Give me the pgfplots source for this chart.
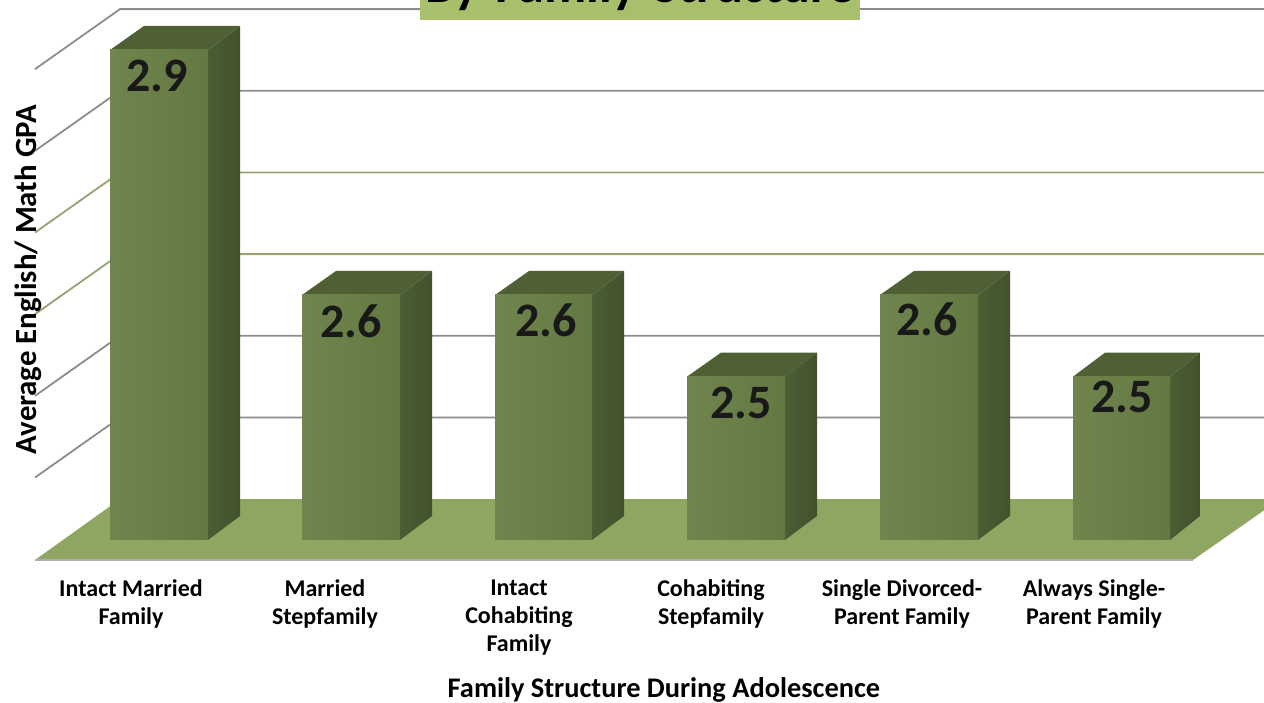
\documentclass[border=0pt]{standalone}
\usepackage{pgfplots}
\pgfplotsset{compat=1.18}
\usepackage{fontspec}
\setmainfont{Carlito}
\definecolor{fl}{HTML}{8FA662}
\definecolor{fa}{HTML}{70844E}
\definecolor{fb}{HTML}{647841}
\definecolor{sa}{HTML}{4A5D33}
\definecolor{sb}{HTML}{42522E}
\definecolor{tp}{HTML}{4F6034}
\definecolor{gg}{HTML}{8C8C8C}
\definecolor{go}{HTML}{97A273}
\definecolor{tb}{HTML}{A8C06C}
\pgfplotsset{
 front/.style={draw=none,forget plot,left color=fa,right color=fb},
 side/.style={draw=none,forget plot,left color=sa,right color=sb},
 top/.style={draw=none,forget plot,fill=tp},
 wall/.style={forget plot,line width=1.8pt,no markers},
}
\tikzset{val/.style={font=\bfseries\fontsize{48}{48}\selectfont,text=black!90}}
\begin{document}
\begin{tikzpicture}
\path[clip,use as bounding box] (0,0) rectangle (1264pt,703pt);
\begin{axis}[
  at={(0pt,0pt)},anchor=south west,
  scale only axis,width=1264pt,height=703pt,
  xmin=0,xmax=1264,ymin=2.10042,ymax=2.96119,
  axis line style={draw=none},
  major tick length=0pt,
  ytick=\empty,
  xtick={131,325,519,711,902,1094},
  xticklabels={Intact Married\\Family,Married\\Stepfamily,Intact\\Cohabiting\\Family,Cohabiting\\Stepfamily,Single Divorced-\\Parent Family,Always Single-\\Parent Family},
  xticklabel style={align=center,font=\bfseries\fontsize{24}{28}\selectfont,yshift=127pt,anchor=north},
  xlabel={Family Structure During Adolescence},
  xlabel style={at={(axis description cs:0.5253,0.019)},anchor=center,font=\bfseries\fontsize{28.4}{30}\selectfont},
  ylabel={Average English/ Math GPA},
  ylabel style={at={(axis description cs:0.0222,0.602)},anchor=center,rotate=0,font=\bfseries\fontsize{30.8}{32}\selectfont},
  title={By Family Structure},
  title style={at={(axis description cs:0.5063,1)},anchor=base,yshift=-9pt,fill=tb,draw=none,inner ysep=0pt,inner xsep=0pt,text depth=17pt,text height=40pt,text width=440pt,align=center,font=\bfseries\fontsize{52}{52}\selectfont},
]
% walls: side diagonals and back lines
\addplot[wall,gg] coordinates {(35,2.8765)(120,2.95)(420,2.95)};
\addplot[wall,gg] coordinates {(860,2.95)(1264,2.95)};
\addplot[wall,gg] coordinates {(35,2.7765)(120,2.85)(1264,2.85)};
\addplot[wall,go] coordinates {(35,2.6765)(120,2.75)(1264,2.75)};
\addplot[wall,go] coordinates {(35,2.5765)(120,2.65)(1264,2.65)};
\addplot[wall,gg] coordinates {(35,2.4765)(120,2.55)(1264,2.55)};
\addplot[wall,gg] coordinates {(35,2.3765)(120,2.45)(1264,2.45)};
% floor
\addplot[draw=none,fill=fl,forget plot] coordinates {(35,2.2755)(1193,2.2755)(1280,2.35)(120,2.35)} --cycle;
\addplot[forget plot,line width=1.2pt,color=gg!70] coordinates {(35,2.2755)(1193,2.2755)};
% bar 1
\addplot[side] coordinates {(208,2.3)(240,2.3294)(240,2.9294)(208,2.9)} --cycle;
\addplot[top] coordinates {(110,2.9)(144,2.9294)(240,2.9294)(208,2.9)} --cycle;
\addplot[front] coordinates {(110,2.3)(110,2.9)(208,2.9)(208,2.3)} --cycle;
% bar 2
\addplot[side] coordinates {(400,2.3)(432,2.3294)(432,2.6294)(400,2.6)} --cycle;
\addplot[top] coordinates {(302,2.6)(336,2.6294)(432,2.6294)(400,2.6)} --cycle;
\addplot[front] coordinates {(302,2.3)(302,2.6)(400,2.6)(400,2.3)} --cycle;
% bar 3
\addplot[side] coordinates {(592,2.3)(624,2.3294)(624,2.6294)(592,2.6)} --cycle;
\addplot[top] coordinates {(495,2.6)(529,2.6294)(624,2.6294)(592,2.6)} --cycle;
\addplot[front] coordinates {(495,2.3)(495,2.6)(592,2.6)(592,2.3)} --cycle;
% bar 4
\addplot[side] coordinates {(785,2.3)(817,2.3294)(817,2.5294)(785,2.5)} --cycle;
\addplot[top] coordinates {(687,2.5)(721,2.5294)(817,2.5294)(785,2.5)} --cycle;
\addplot[front] coordinates {(687,2.3)(687,2.5)(785,2.5)(785,2.3)} --cycle;
% bar 5
\addplot[side] coordinates {(978,2.3)(1010,2.3294)(1010,2.6294)(978,2.6)} --cycle;
\addplot[top] coordinates {(880,2.6)(914,2.6294)(1010,2.6294)(978,2.6)} --cycle;
\addplot[front] coordinates {(880,2.3)(880,2.6)(978,2.6)(978,2.3)} --cycle;
% bar 6
\addplot[side] coordinates {(1170,2.3)(1200,2.3294)(1200,2.5294)(1170,2.5)} --cycle;
\addplot[top] coordinates {(1073,2.5)(1105,2.5294)(1200,2.5294)(1170,2.5)} --cycle;
\addplot[front] coordinates {(1073,2.3)(1073,2.5)(1170,2.5)(1170,2.3)} --cycle;
% values
\node[val] at (axis cs:157,2.8681) {2.9};
\node[val] at (axis cs:351,2.5673) {2.6};
\node[val] at (axis cs:546,2.5685) {2.6};
\node[val] at (axis cs:741,2.4678) {2.5};
\node[val] at (axis cs:927,2.5698) {2.6};
\node[val] at (axis cs:1122,2.4752) {2.5};
\end{axis}
\end{tikzpicture}
\end{document}
